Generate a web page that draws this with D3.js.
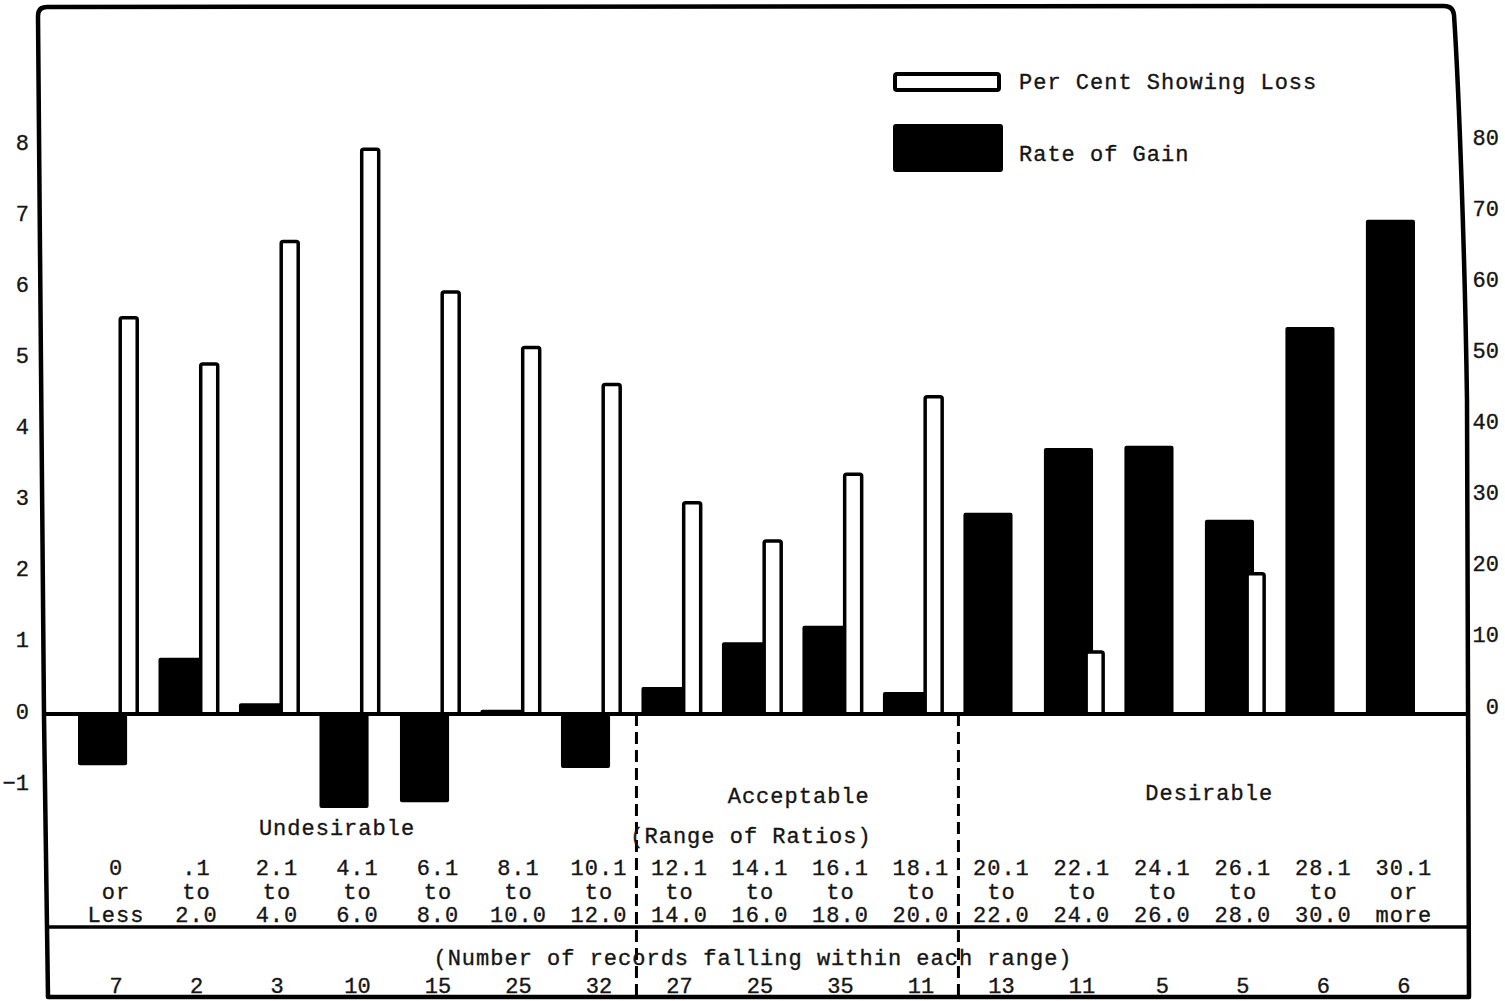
<!DOCTYPE html>
<html>
<head>
<meta charset="utf-8">
<script src="https://cdn.jsdelivr.net/npm/d3@7"></script>
<style>
  html, body { margin: 0; padding: 0; background: #fff; }
  svg { display: block; }
  text { font-family: "Liberation Mono", "DejaVu Sans Mono", monospace; fill: #151515; stroke: #151515; stroke-width: 0.35px; }
</style>
</head>
<body>
<div id="chart"></div>
<script>
//categories (range of ratios), three typed lines each
const rangeTop = ["0", ".1", "2.1", "4.1", "6.1", "8.1", "10.1", "12.1", "14.1", "16.1", "18.1", "20.1", "22.1", "24.1", "26.1", "28.1", "30.1"];
const rangeMid = ["or", "to", "to", "to", "to", "to", "to", "to", "to", "to", "to", "to", "to", "to", "to", "to", "or"];
const rangeBottom = ["Less", "2.0", "4.0", "6.0", "8.0", "10.0", "12.0", "14.0", "16.0", "18.0", "20.0", "22.0", "24.0", "26.0", "28.0", "30.0", "more"];

//number of records falling within each range
const records = [7, 2, 3, 10, 15, 25, 32, 27, 25, 35, 11, 13, 11, 5, 5, 6, 6];

//rate of gain (left axis)
const rateOfGain = [-0.72, 0.79, 0.15, -1.32, -1.24, 0.06, -0.76, 0.38, 1.01, 1.24, 0.31, 2.83, 3.74, 3.77, 2.73, 5.44, 6.95];
//per cent showing loss (right axis), 0 = no bar
const pctLoss = [56, 49.5, 66.7, 79.7, 59.6, 51.8, 46.6, 30, 24.6, 34, 44.9, 0, 9, 0, 20, 0, 0];

//tick labels
const gainTicks = [-1, 0, 1, 2, 3, 4, 5, 6, 7, 8];
const pctTicks = [0, 10, 20, 30, 40, 50, 60, 70, 80];

//rating groups: [label, first category index, last category index]
const groups = [
  ["Undesirable", 0, 6],
  ["Acceptable", 7, 10],
  ["Desirable", 11, 16],
];

const width = 1505;
const height = 1001;
const fontSize = 22;

const cats = rangeTop.map((d, i) => `${d} ${rangeMid[i]} ${rangeBottom[i]}`);

const x = d3.scaleBand()
    .domain(cats)
    .range([78, 1415])
    .paddingInner(0.39)
    .paddingOuter(0);

const yGain = d3.scaleLinear().domain([0, 8]).range([714, 145]);
const yPct = d3.scaleLinear().domain([0, 80]).range([714, 145]);

const whiteOffset = x.bandwidth() * 0.86;
const whiteWidth = 17;
const labelOffset = 38;

const svg = d3.select("#chart")
    .append("svg")
    .attr("width", width)
    .attr("height", height);

//black bars
svg.append("g")
    .selectAll("rect")
    .data(rateOfGain)
    .join("rect")
    .attr("x", (d, i) => x(cats[i]))
    .attr("width", x.bandwidth())
    .attr("y", (d) => Math.min(yGain(d), yGain(0)))
    .attr("height", (d) => Math.abs(yGain(d) - yGain(0)))
    .attr("rx", 2)
    .attr("fill", "#000");

//white outlined bars
svg.append("g")
    .selectAll("rect")
    .data(pctLoss.map((v, i) => ({ v, i })).filter((d) => d.v > 0))
    .join("rect")
    .attr("x", (d) => x(cats[d.i]) + whiteOffset)
    .attr("width", whiteWidth)
    .attr("y", (d) => yPct(d.v) + 2)
    .attr("height", (d) => yPct(0) - yPct(d.v) - 2)
    .attr("rx", 2)
    .attr("fill", "#fff")
    .attr("stroke", "#000")
    .attr("stroke-width", 3.5);

//frame
svg.append("path")
    .attr("d", "M44,716 L38,16 Q38,7 47,7 L1444,6 Q1453,6 1454,15 C1459,90 1465,260 1467,400 L1469,997 L48,997 Z")
    .attr("fill", "none")
    .attr("stroke", "#000")
    .attr("stroke-width", 4.5)
    .attr("stroke-linejoin", "round");

//zero line
svg.append("line")
    .attr("x1", 42).attr("x2", 1468)
    .attr("y1", yGain(0)).attr("y2", yGain(0))
    .attr("stroke", "#000")
    .attr("stroke-width", 4);

//line above record counts
svg.append("line")
    .attr("x1", 47).attr("x2", 1469)
    .attr("y1", 927).attr("y2", 927)
    .attr("stroke", "#000")
    .attr("stroke-width", 3.5);

//dashed group dividers
const dividers = groups.slice(1).map((g) => x(cats[g[1]]) - 5);
svg.append("g")
    .selectAll("line")
    .data(dividers)
    .join("line")
    .attr("x1", (d) => d).attr("x2", (d) => d)
    .attr("y1", yGain(0)).attr("y2", 997)
    .attr("stroke", "#000")
    .attr("stroke-width", 3)
    .attr("stroke-dasharray", "12,6");

//left axis
svg.append("g")
    .attr("transform", "translate(29,-3)")
    .call(d3.axisLeft(yGain).tickValues(gainTicks).tickSize(0).tickPadding(0))
    .call((g) => g.select(".domain").remove())
    .call((g) => g.selectAll("text")
        .attr("font-size", fontSize)
        .attr("font-family", null)
        .attr("fill", null));

//right axis
svg.append("g")
    .attr("transform", "translate(1499,-8)")
    .call(d3.axisLeft(yPct).tickValues(pctTicks).tickSize(0).tickPadding(0))
    .call((g) => g.select(".domain").remove())
    .call((g) => g.selectAll("text")
        .attr("font-size", fontSize)
        .attr("font-family", null)
        .attr("fill", null));

//category labels
const catLabels = svg.append("g")
    .attr("font-size", fontSize)
    .attr("text-anchor", "middle")
    .attr("letter-spacing", 1);

[rangeTop, rangeMid, rangeBottom].forEach((row, r) => {
  catLabels.append("g")
      .selectAll("text")
      .data(row)
      .join("text")
      .attr("x", (d, i) => x(cats[i]) + labelOffset)
      .attr("y", 875 + r * 23.5)
      .text((d) => d);
});

//record counts
svg.append("g")
    .attr("font-size", fontSize)
    .attr("text-anchor", "middle")
    .selectAll("text")
    .data(records)
    .join("text")
    .attr("x", (d, i) => x(cats[i]) + labelOffset)
    .attr("y", 993)
    .text((d) => d);

//group names
const groupY = { Undesirable: 835, Acceptable: 803, Desirable: 800 };
const groupShift = { Undesirable: -7, Acceptable: 12, Desirable: 20 };
svg.append("g")
    .attr("font-size", fontSize)
    .attr("text-anchor", "middle")
    .attr("letter-spacing", 1)
    .selectAll("text")
    .data(groups)
    .join("text")
    .attr("x", (d) => (x(cats[d[1]]) + x(cats[d[2]]) + x.bandwidth()) / 2 + groupShift[d[0]])
    .attr("y", (d) => groupY[d[0]])
    .text((d) => d[0]);

svg.append("text")
    .attr("x", 751)
    .attr("y", 843)
    .attr("font-size", fontSize)
    .attr("letter-spacing", 1)
    .attr("text-anchor", "middle")
    .text("(Range of Ratios)");

svg.append("text")
    .attr("x", 753)
    .attr("y", 965)
    .attr("font-size", fontSize)
    .attr("letter-spacing", 1)
    .attr("text-anchor", "middle")
    .text("(Number of records falling within each range)");

//legend
const legend = svg.append("g").attr("font-size", fontSize).attr("letter-spacing", 1);

legend.append("rect")
    .attr("x", 895).attr("y", 74)
    .attr("width", 104).attr("height", 16)
    .attr("rx", 2)
    .attr("fill", "#fff")
    .attr("stroke", "#000")
    .attr("stroke-width", 4);

legend.append("rect")
    .attr("x", 893).attr("y", 124)
    .attr("width", 110).attr("height", 48)
    .attr("rx", 3)
    .attr("fill", "#000");

legend.append("text").attr("x", 1019).attr("y", 89).text("Per Cent Showing Loss");
legend.append("text").attr("x", 1019).attr("y", 161).text("Rate of Gain");
</script>
</body>
</html>
